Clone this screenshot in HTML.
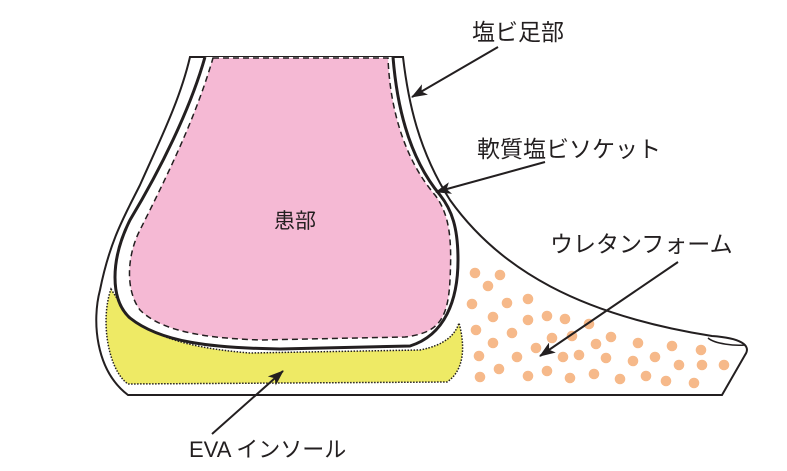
<!DOCTYPE html>
<html><head><meta charset="utf-8"><style>
html,body{margin:0;padding:0;background:#fff;}
svg{display:block}
text{font-family:"Liberation Sans","Noto Sans CJK JP",sans-serif;fill:#231f20;}
</style></head><body>
<svg width="787" height="471" viewBox="0 0 787 471" xmlns="http://www.w3.org/2000/svg">
<defs>
<marker id="ah" markerWidth="16" markerHeight="12" refX="15" refY="6" orient="auto" markerUnits="userSpaceOnUse">
<path d="M0,0 L16,6 L0,12 L4,6 Z" fill="#231f20"/>
</marker>
</defs>
<path d="M190,57 L403,57 C408,100 418,150 450,200 C500,270 580,315 712,336 C740,338 752,345 745,355 L722,395 L128,395 C95,370 92,320 100,290 C110,240 125,215 140,185 C160,140 180,100 190,57 Z" fill="#fff" stroke="#231f20" stroke-width="2"/>
<path d="M708,338 C715,344 735,346 745,345" fill="none" stroke="#231f20" stroke-width="1.5"/>
<g fill="#f6b98a">
<circle cx="475" cy="273" r="5.3"/><circle cx="500" cy="275" r="5.3"/><circle cx="488" cy="286" r="5.3"/>
<circle cx="472" cy="304" r="5.3"/><circle cx="507" cy="303" r="5.3"/><circle cx="528" cy="299" r="5.3"/>
<circle cx="493" cy="317" r="5.3"/><circle cx="528" cy="320" r="5.3"/><circle cx="547" cy="316" r="5.3"/>
<circle cx="565" cy="319" r="5.3"/><circle cx="589" cy="324" r="5.3"/><circle cx="476" cy="330" r="5.3"/>
<circle cx="512" cy="333" r="5.3"/><circle cx="552" cy="338" r="5.3"/><circle cx="572" cy="336" r="5.3"/>
<circle cx="611" cy="337" r="5.3"/><circle cx="493" cy="343" r="5.3"/><circle cx="536" cy="348" r="5.3"/>
<circle cx="596" cy="344" r="5.3"/><circle cx="638" cy="343" r="5.3"/><circle cx="672" cy="346" r="5.3"/>
<circle cx="701" cy="350" r="5.3"/><circle cx="479" cy="356" r="5.3"/><circle cx="517" cy="357" r="5.3"/>
<circle cx="563" cy="357" r="5.3"/><circle cx="579" cy="355" r="5.3"/><circle cx="606" cy="358" r="5.3"/>
<circle cx="633" cy="361" r="5.3"/><circle cx="655" cy="357" r="5.3"/><circle cx="679" cy="365" r="5.3"/>
<circle cx="702" cy="365" r="5.3"/><circle cx="724" cy="365" r="5.3"/><circle cx="499" cy="369" r="5.3"/>
<circle cx="480" cy="377" r="5.3"/><circle cx="528" cy="376" r="5.3"/><circle cx="547" cy="371" r="5.3"/>
<circle cx="570" cy="378" r="5.3"/><circle cx="594" cy="374" r="5.3"/><circle cx="620" cy="379" r="5.3"/>
<circle cx="646" cy="376" r="5.3"/><circle cx="666" cy="381" r="5.3"/><circle cx="694" cy="383" r="5.3"/>
</g>
<path d="M111,289 C130,320 150,345 250,353 L420,350 C445,345 455,335 459,323 C465,345 465,370 447,382 L128,384 C108,370 100,320 111,289 Z" fill="#eeea65" stroke="#231f20" stroke-width="1.5" stroke-dasharray="1.5,1.5"/>
<path d="M205,57 C190,110 160,170 130,220 C110,260 110,300 130,318 C160,342 210,348 280,349 L410,346 C445,335 458,300 458,260 C458,228 452,210 440,195 C415,165 398,120 393,57" fill="#fff" stroke="#231f20" stroke-width="3"/>
<path d="M213,58 L388,58 C390,110 405,160 435,195 C450,215 452,240 450,280 C448,320 438,333 405,337 L260,340 C200,338 160,330 140,310 C125,290 127,255 140,230 C165,180 195,120 213,58 Z" fill="#f5b9d4" stroke="#231f20" stroke-width="1.5" stroke-dasharray="6,4"/>
<text x="274" y="228" font-size="21">患部</text>
<text x="472" y="40" font-size="23">塩ビ足部</text>
<text x="477" y="157" font-size="23">軟質塩ビソケット</text>
<text x="550" y="252" font-size="23">ウレタンフォーム</text>
<text x="189" y="457" font-size="22">EVA インソール</text>
<g stroke="#231f20" stroke-width="2" fill="none">
<line x1="498" y1="47" x2="412" y2="97" marker-end="url(#ah)"/>
<line x1="545" y1="162" x2="436" y2="192" marker-end="url(#ah)"/>
<line x1="678" y1="262" x2="540" y2="356" marker-end="url(#ah)"/>
<line x1="212" y1="434" x2="283" y2="371" marker-end="url(#ah)"/>
</g>
</svg>
</body></html>
